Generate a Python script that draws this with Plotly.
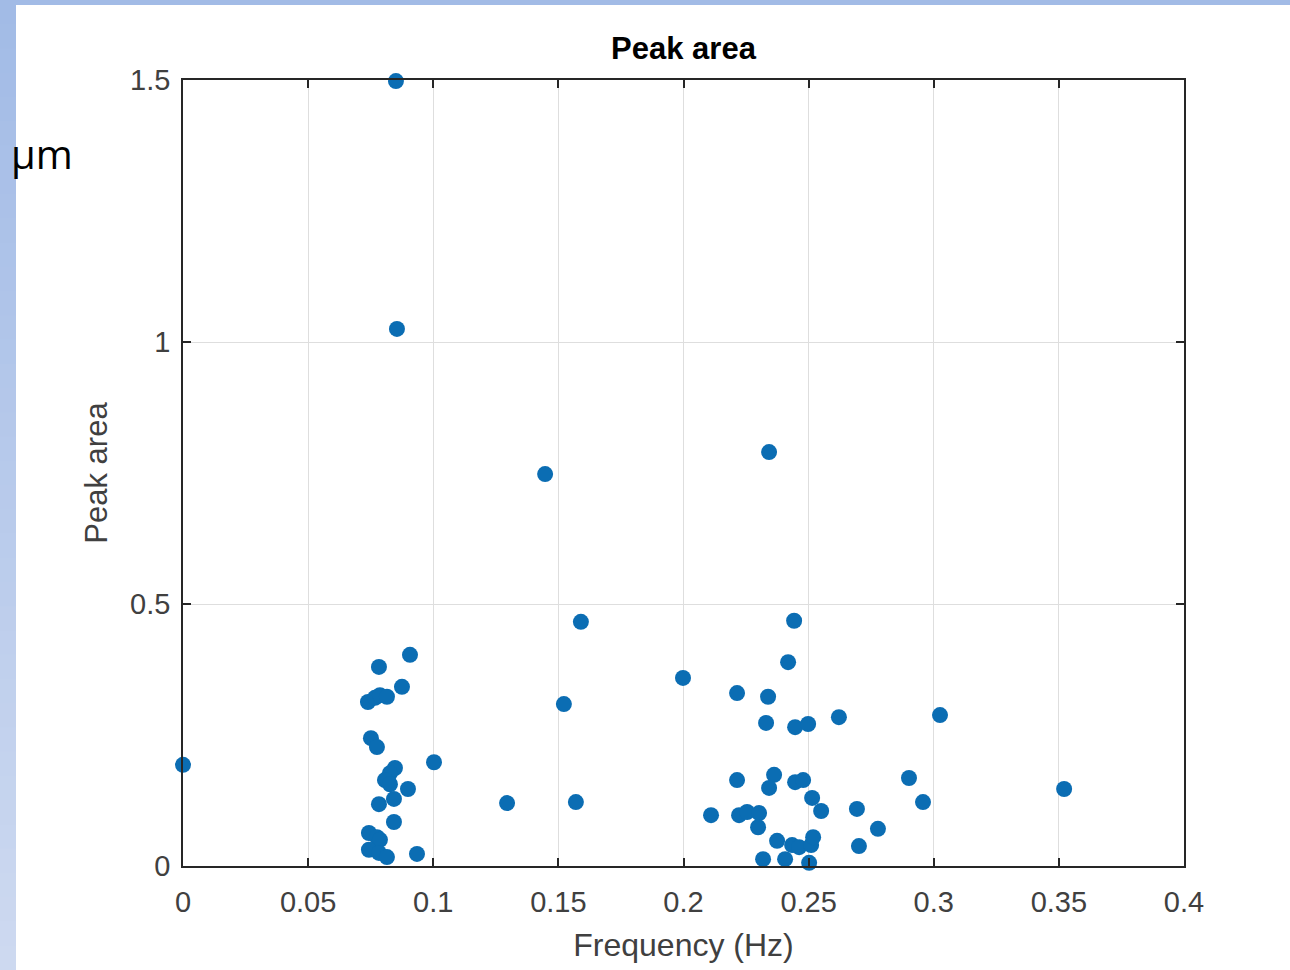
import plotly.graph_objects as go

# ---- data ----
freq_hz = [
    0.000, 0.0851, 0.0855, 0.1447, 0.2342, 0.1590, 0.2442, 0.2418, 0.1998, 0.2214,
    0.2338, 0.1522, 0.3025, 0.2621, 0.2330, 0.2446, 0.2498, 0.1295, 0.1570, 0.1003,
    0.3521, 0.2901, 0.2957, 0.2693, 0.2777, 0.2701, 0.2214, 0.2362, 0.2342, 0.2446,
    0.2478, 0.2514, 0.2550, 0.2110, 0.2222, 0.2254, 0.2302, 0.2298, 0.2374, 0.2434,
    0.2462, 0.2510, 0.2518, 0.2318, 0.2406, 0.2502,
    0.0907, 0.0783, 0.0875, 0.0739, 0.0767, 0.0787, 0.0815, 0.0751, 0.0775, 0.0847,
    0.0827, 0.0807, 0.0827, 0.0899, 0.0843, 0.0783, 0.0843, 0.0743, 0.0775, 0.0787,
    0.0743, 0.0783, 0.0815, 0.0935,
]
peak_area = [
    0.193, 1.498, 1.025, 0.748, 0.790, 0.466, 0.468, 0.389, 0.359, 0.330,
    0.323, 0.309, 0.288, 0.284, 0.273, 0.265, 0.271, 0.120, 0.122, 0.198,
    0.147, 0.168, 0.122, 0.109, 0.071, 0.038, 0.164, 0.174, 0.149, 0.160,
    0.164, 0.130, 0.105, 0.097, 0.097, 0.103, 0.101, 0.074, 0.048, 0.040,
    0.036, 0.040, 0.055, 0.013, 0.013, 0.006,
    0.403, 0.380, 0.342, 0.313, 0.321, 0.326, 0.323, 0.244, 0.227, 0.187,
    0.177, 0.164, 0.156, 0.147, 0.128, 0.118, 0.084, 0.063, 0.055, 0.050,
    0.031, 0.025, 0.017, 0.023,
]
x_tickvals = [0, 0.05, 0.1, 0.15, 0.2, 0.25, 0.3, 0.35, 0.4]
x_ticktext = ["0", "0.05", "0.1", "0.15", "0.2", "0.25", "0.3", "0.35", "0.4"]
y_tickvals = [0, 0.5, 1, 1.5]
y_ticktext = ["0", "0.5", "1", "1.5"]

W, H = 1290, 970
L, R, T, B = 183, 106, 80, 104
PW, PH = W - L - R, H - T - B


def px(x):
    return (x - L) / PW


def py(y):
    return (H - B - y) / PH


AX = "#262626"
TXT = "#404040"
FONT = "Liberation Sans, Arial, sans-serif"

fig = go.Figure()
fig.add_trace(go.Scatter(
    x=freq_hz, y=peak_area, mode="markers",
    marker=dict(size=16, color="#0b6db3", line=dict(width=0)),
    cliponaxis=False, showlegend=False,
))

shapes = []
# slide background: top band
shapes.append(dict(type="rect", xref="paper", yref="paper", x0=px(0), x1=px(W),
                   y0=py(5), y1=py(0), fillcolor="#a2bbe6", line=dict(width=0), layer="below"))
# left band with vertical gradient
n = 40
c0 = (0xa2, 0xbb, 0xe6)
c1 = (0xcd, 0xd9, 0xf0)
for i in range(n):
    t = i / (n - 1)
    col = "rgb(%d,%d,%d)" % tuple(round(a + (b - a) * t) for a, b in zip(c0, c1))
    y0p = H * i / n
    y1p = H * (i + 1) / n + 1
    shapes.append(dict(type="rect", xref="paper", yref="paper", x0=px(0), x1=px(16),
                       y0=py(y1p), y1=py(y0p), fillcolor=col, line=dict(width=0), layer="below"))

fig.update_layout(
    width=W, height=H,
    margin=dict(l=L, r=R, t=T, b=B, pad=0),
    paper_bgcolor="white", plot_bgcolor="white",
    font=dict(family=FONT, color=AX),
    shapes=shapes,
    title=dict(text="<b>Peak area</b>", x=px(683.5), xref="paper", xanchor="center",
               y=1 - 48 / H, yref="container", yanchor="middle",
               font=dict(family=FONT, size=31, color="black")),
    xaxis=dict(
        range=[0, 0.4], tickvals=x_tickvals, ticktext=x_ticktext,
        showgrid=True, gridcolor="#dedede", gridwidth=1, zeroline=False,
        showline=True, linecolor=AX, linewidth=1.5, mirror="ticks",
        ticks="inside", ticklen=8, tickcolor=AX, tickwidth=1.5,
        tickfont=dict(family=FONT, size=29, color=TXT),
        ticklabelstandoff=9,
        title=dict(text="Frequency (Hz)", font=dict(family=FONT, size=32, color=TXT),
                   standoff=17),
    ),
    yaxis=dict(
        range=[0, 1.5], tickvals=y_tickvals, ticktext=y_ticktext,
        showgrid=True, gridcolor="#dedede", gridwidth=1, zeroline=False,
        showline=True, linecolor=AX, linewidth=1.5, mirror="ticks",
        ticks="inside", ticklen=8, tickcolor=AX, tickwidth=1.5,
        tickfont=dict(family=FONT, size=29, color=TXT),
        ticklabelstandoff=5,
        title=dict(text="Peak area", font=dict(family=FONT, size=31, color=TXT),
                   standoff=13),
    ),
    annotations=[dict(text="µm", xref="paper", yref="paper", x=px(9), y=py(153),
                      xanchor="left", yanchor="middle", showarrow=False,
                      font=dict(family="Open Sans, sans-serif", size=40, color="black"))],
)

fig.write_html("out.html")
